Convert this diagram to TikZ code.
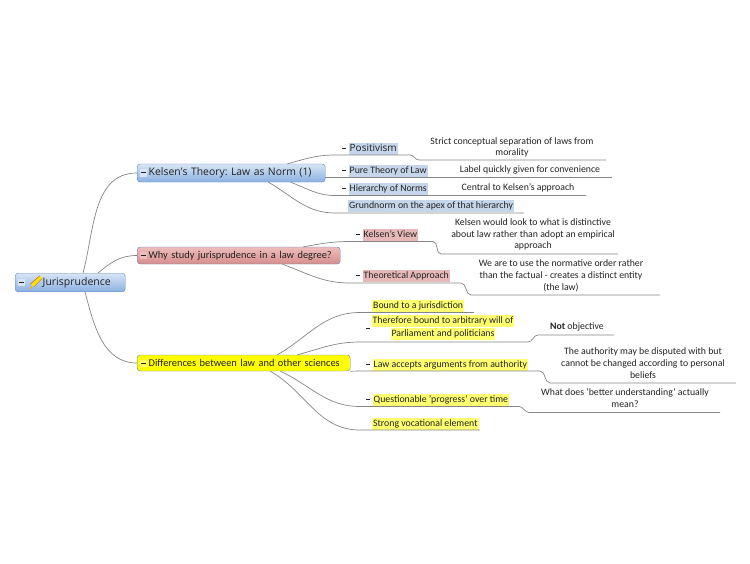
\documentclass[tikz,border=0pt]{standalone}
\usepackage{fontspec}
\setmainfont{Carlito}
\newfontfamily\segoe{Open Sans}
\definecolor{blueTop}{HTML}{D8E5F6}
\definecolor{blueBot}{HTML}{8AB1E1}
\definecolor{blueRim}{HTML}{5A86C3}
\definecolor{redTop}{HTML}{EDBDBC}
\definecolor{redBot}{HTML}{D68E8C}
\definecolor{yelFill}{HTML}{FFFF00}
\definecolor{blueHi}{HTML}{C5D5EA}
\definecolor{redHi}{HTML}{E6B9B8}
\definecolor{yelHi}{HTML}{FFFF70}
\definecolor{lineGrey}{HTML}{858585}
\definecolor{inkGrey}{HTML}{222222}

\newcommand\hilite[2]{{\setlength\fboxsep{1pt}\colorbox{#1}{\rule[-2.5pt]{0pt}{10pt}#2}}}
\newcommand\foldmark{\rule[2.3pt]{4pt}{0.8pt}\hspace{2.5pt}}
\newcommand\topicmark[1]{{\setlength\fboxsep{1pt}\colorbox{#1}{\rule{0pt}{5.5pt}\rule[2.4pt]{4.5pt}{0.9pt}}}\hspace{2pt}}
\frenchspacing

\tikzset{
  topic/.style={draw=blueRim, rounded corners=3pt, anchor=west, minimum height=17pt,
    inner xsep=3pt, inner ysep=0pt, align=left, text=inkGrey},
  leaf/.style={anchor=base west, inner sep=0pt, text=inkGrey, font=\fontsize{9.8}{11.8}\selectfont},
  note/.style={anchor=south, inner sep=0pt, align=center, text=inkGrey,
    font=\fontsize{9.8}{11.8}\selectfont, execute at end node={\rule[-2.5pt]{0pt}{2.5pt}}},
  branch/.style={draw=lineGrey, line width=0.7pt}
}

\begin{document}
\begin{tikzpicture}[x=1pt, y=-1pt]
\useasboundingbox (0,0) rectangle (750,563);

% central topic and main topics
\node[topic, top color=blueTop, bottom color=blueBot, text width=104pt, minimum height=18.5pt,
  font=\segoe\fontsize{10.5}{12}\selectfont] (root) at (15,282.5) {\topicmark{blueTop}\hspace{16pt}Jurisprudence};
\node[topic, top color=blueTop, bottom color=blueBot, text width=182pt, minimum height=18pt,
  font=\segoe\fontsize{10.4}{12}\selectfont] (kelsen) at (137,173) {\topicmark{blueTop}Kelsen's Theory: Law as Norm (1)};
\node[topic, top color=redTop, bottom color=redBot, text width=197pt,
  font=\fontsize{10.4}{12}\selectfont] (why) at (137,255.5) {\topicmark{redTop}Why study jurisprudence in a law degree?};
\node[topic, fill=yelFill, text width=207pt, minimum height=16pt,
  font=\fontsize{10.4}{12}\selectfont] (diff) at (137,363) {\topicmark{yelHi}Differences between law and other sciences};

% pencil icon
\fill[orange!70!yellow] (31,286) -- (28.5,289.5) -- (32,287.5) -- cycle;
\draw[line width=3.2pt, yellow!85!orange] (32.5,285.5) -- (41,277);
\draw[line width=0.5pt, orange!80!black] (30.2,284.2) -- (39.8,275.7) (33.8,286.8) -- (42.3,278.3);

\draw[branch] ([xshift=68pt]root.north west) to[out=75,in=180] (kelsen.west);
\draw[branch] ([xshift=83pt]root.north west) to[out=40,in=180] (why.west);
\draw[branch] ([xshift=70pt]root.south west) to[out=-75,in=180] (diff.west);

% Kelsen's Theory
\node[leaf, font=\segoe\fontsize{10}{12}\selectfont] (posit) at (342,151) {\foldmark\hilite{blueHi}{Positivism}};
\node[leaf] (pure) at (342,173.5) {\foldmark\hilite{blueHi}{Pure Theory of Law}};
\node[leaf] (hier) at (342,191) {\foldmark\hilite{blueHi}{Hierarchy of Norms}};
\node[leaf] (grund) at (348,208.5) {\hilite{blueHi}{Grundnorm on the apex of that hierarchy}};
\node[note] (positn) at (512,158.5) {Strict conceptual separation of laws from\\morality};
\node[note] (puren) at (530,175.5) {Label quickly given for convenience};
\node[note] (hiern) at (518,193.5) {Central to Kelsen's approach};

\coordinate (posit-a) at (335,155); \coordinate (posit-b) at (410,155);
\coordinate (positn-a) at (419,160); \coordinate (positn-b) at (606,160);
\coordinate (pure-a) at (335,177.5); \coordinate (pure-b) at (448,177.5);
\coordinate (puren-b) at (612,177.5);
\coordinate (hier-a) at (335,195.5); \coordinate (hier-b) at (460,195.5);
\coordinate (hiern-b) at (586,195.5);
\coordinate (grund-a) at (335,213); \coordinate (grund-b) at (524,213);

\draw[branch] ([xshift=-38pt]kelsen.north east) to[out=15,in=180] (posit-a) -- (posit-b)
  to[out=0,in=180] (positn-a) -- (positn-b);
\draw[branch] ([yshift=-4.5pt]kelsen.east) -- (pure-a) -- (pure-b) -- (puren-b);
\draw[branch] ([xshift=-35pt]kelsen.south east) to[out=-20,in=180] (hier-a) -- (hier-b) -- (hiern-b);
\draw[branch] ([xshift=-57pt]kelsen.south east) to[out=-30,in=180] (grund-a) -- (grund-b);

% Why study jurisprudence
\node[leaf] (kview) at (356,237.5) {\foldmark\hilite{redHi}{Kelsen's View}};
\node[leaf] (theo) at (356,278.5) {\foldmark\hilite{redHi}{Theoretical Approach}};
\node[note] (kviewn) at (533,251.5) {Kelsen would look to what is distinctive\\about law rather than adopt an empirical\\approach};
\node[note] (theon) at (561,293) {We are to use the normative order rather\\than the factual - creates a distinct entity\\(the law)};

\coordinate (kview-a) at (350,241.5); \coordinate (kview-b) at (433,241.5);
\coordinate (kviewn-a) at (441,254); \coordinate (kviewn-b) at (618,254);
\coordinate (theo-a) at (350,283); \coordinate (theo-b) at (461,283);
\coordinate (theon-a) at (471,295); \coordinate (theon-b) at (660,295);

\draw[branch] ([xshift=-37pt]why.north east) to[out=10,in=180] (kview-a) -- (kview-b)
  to[out=0,in=180] (kviewn-a) -- (kviewn-b);
\draw[branch] ([xshift=-58pt]why.south east) to[out=-20,in=180] (theo-a) -- (theo-b)
  to[out=0,in=180] (theon-a) -- (theon-b);

% Differences between law and other sciences
\node[leaf] (bound) at (372,308) {\hilite{yelHi}{Bound to a jurisdiction}};
\node[leaf] (theremk) at (366,331) {\foldmark};
\node[note] (there) at (443,340) {\hilite{yelHi}{Therefore bound to arbitrary will of}\\\hilite{yelHi}{Parliament and politicians}};
\node[leaf] (law) at (366,367.5) {\foldmark\hilite{yelHi}{Law accepts arguments from authority}};
\node[leaf] (quest) at (366,402.5) {\foldmark\hilite{yelHi}{Questionable 'progress' over time}};
\node[leaf] (strong) at (372,426) {\hilite{yelHi}{Strong vocational element}};
\node[note] (theren) at (577,332.5) {\textbf{Not} objective};
\node[note] (lawn) at (643,381) {The authority may be disputed with but\\cannot be changed according to personal\\beliefs};
\node[note] (questn) at (625,410) {What does 'better understanding' actually\\mean?};

\coordinate (bound-a) at (360,312.5); \coordinate (bound-b) at (474,312.5);
\coordinate (there-a) at (360,342); \coordinate (there-b) at (528,342);
\coordinate (theren-a) at (538,335); \coordinate (theren-b) at (614,335);
\coordinate (law-a) at (360,371); \coordinate (law-b) at (540,371);
\coordinate (lawn-a) at (550,383); \coordinate (lawn-b) at (736,383);
\coordinate (quest-a) at (360,406.5); \coordinate (quest-b) at (519,406.5);
\coordinate (questn-a) at (529,412.5); \coordinate (questn-b) at (720,412.5);
\coordinate (strong-a) at (360,430); \coordinate (strong-b) at (480,430);

\draw[branch] ([xshift=-73pt]diff.north east) to[out=30,in=180] (bound-a) -- (bound-b);
\draw[branch] ([xshift=-53pt]diff.north east) to[out=15,in=180] (there-a) -- (there-b)
  to[out=0,in=180] (theren-a) -- (theren-b);
\draw[branch] (diff.south east) -- (law-a) -- (law-b)
  to[out=0,in=180] (lawn-a) -- (lawn-b);
\draw[branch] ([xshift=-70pt]diff.south east) to[out=-25,in=180] (quest-a) -- (quest-b)
  to[out=0,in=180] (questn-a) -- (questn-b);
\draw[branch] ([xshift=-80pt]diff.south east) to[out=-30,in=180] (strong-a) -- (strong-b);
\end{tikzpicture}
\end{document}
